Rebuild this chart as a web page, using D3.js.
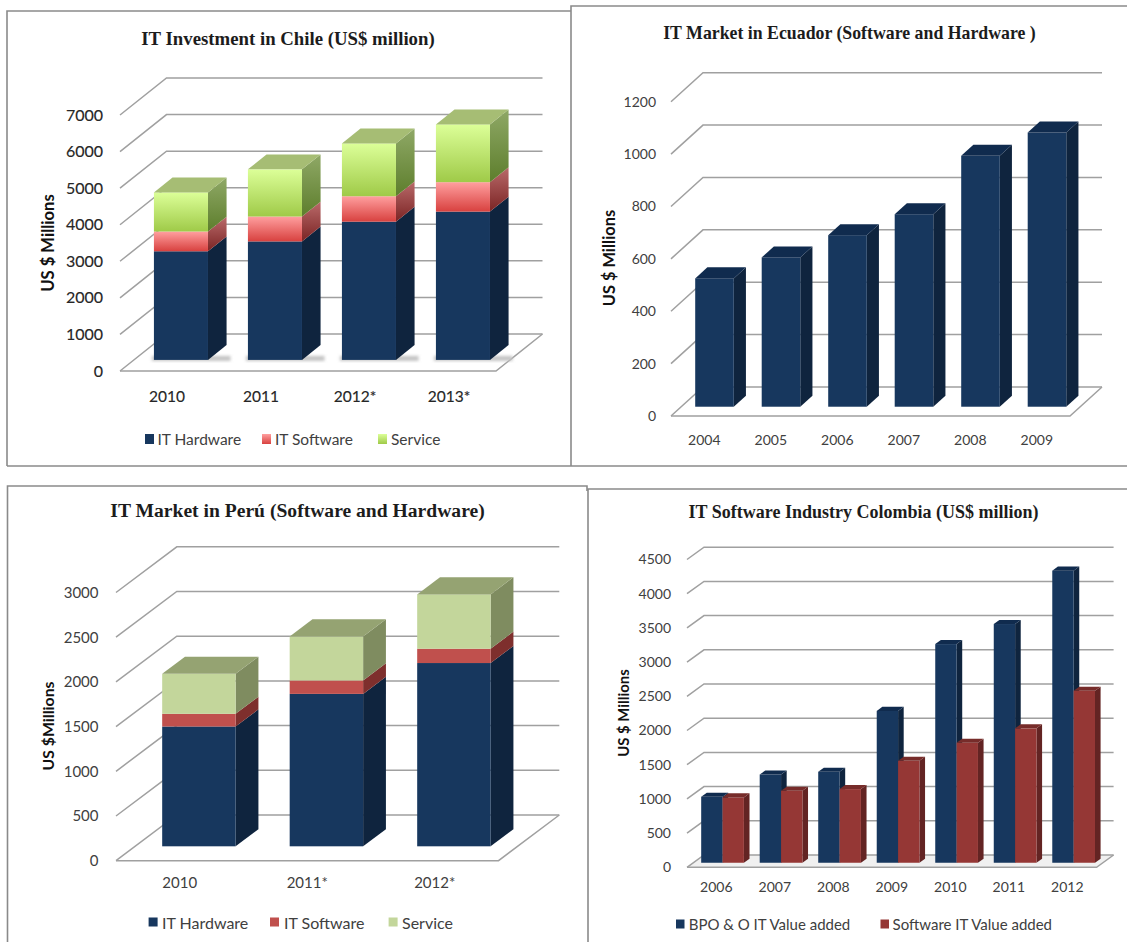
<!DOCTYPE html>
<html>
<head>
<meta charset="utf-8">
<title>IT markets in Latin America</title>
<script src="https://cdn.jsdelivr.net/npm/d3@7/dist/d3.min.js"></script>
<style>
  html, body { margin: 0; padding: 0; background: #fff; }
  svg { display: block; }
</style>
</head>
<body>
<svg id="board" width="1127" height="942"></svg>
<script>
// Chile, US$ million
const chileYears = ["2010", "2011", "2012*", "2013*"];
const chileHardware = [2970, 3240, 3780, 4055];
const chileSoftware = [540, 680, 695, 805];
const chileService = [1070, 1290, 1445, 1580];
const chileTicks = [0, 1000, 2000, 3000, 4000, 5000, 6000, 7000];

// Ecuador, US$ million
const ecuadorYears = ["2004", "2005", "2006", "2007", "2008", "2009"];
const ecuadorMarket = [490, 570, 655, 735, 958, 1047];
const ecuadorTicks = [0, 200, 400, 600, 800, 1000, 1200];

// Peru, US$ million
const peruYears = ["2010", "2011*", "2012*"];
const peruHardware = [1340, 1705, 2050];
const peruSoftware = [142, 150, 160];
const peruService = [447, 492, 608];
const peruTicks = [0, 500, 1000, 1500, 2000, 2500, 3000];

// Colombia, US$ million
const colombiaYears = ["2006", "2007", "2008", "2009", "2010", "2011", "2012"];
const colombiaBpo = [965, 1290, 1330, 2220, 3197, 3490, 4270];
const colombiaSoftware = [955, 1053, 1077, 1490, 1755, 1965, 2515];
const colombiaTicks = [0, 500, 1000, 1500, 2000, 2500, 3000, 3500, 4000, 4500];

const svg = d3.select("#board");
const defs = svg.append("defs");

function verticalGradient(id, top, bottom) {
  const g = defs.append("linearGradient").attr("id", id)
    .attr("x1", 0).attr("y1", 0).attr("x2", 0).attr("y2", 1);
  g.append("stop").attr("offset", "0%").attr("stop-color", top);
  g.append("stop").attr("offset", "100%").attr("stop-color", bottom);
}
verticalGradient("pinkFront", "#ff9f9f", "#d8413f");
verticalGradient("pinkSide", "#b96a6a", "#7b2424");
verticalGradient("limeFront", "#dcff98", "#9fca48");
verticalGradient("limeSide", "#8fa866", "#5d7e2c");
defs.append("filter").attr("id", "soft")
  .attr("x", "-20%").attr("y", "-40%").attr("width", "140%").attr("height", "180%")
  .append("feGaussianBlur").attr("stdDeviation", 1.5);

const navy = { front: "#17375e", side: "#0f243e", top: "#102b4e" };

// One entry per chart: its frame, its oblique box and its text placement.
const panels = [
  {
    title: "IT Investment in Chile (US$ million)", titleX: 288, titleY: 38, titleSize: 18.8,
    frame: [[7, 466], [7, 11], [571, 11]], frameBottom: [[7, 466], [571, 466]],
    yLabel: "US $ Millions", yLabelX: 48, yLabelY: 243, yLabelSize: 16.6,
    categories: chileYears, ticks: chileTicks,
    series: [
      { name: "IT Hardware", values: chileHardware, ...navy },
      { name: "IT Software", values: chileSoftware, front: "url(#pinkFront)", side: "url(#pinkSide)", top: "#c07070" },
      { name: "Service", values: chileService, front: "url(#limeFront)", side: "url(#limeSide)", top: "#a6bd74" }
    ],
    layout: "stacked",
    x0: 120, x1: 496, y0: 371, yTop: 115, dx: 46.5, dy: 37, near: 0.3, far: 0.7, padding: 0.425,
    tickPad: 17, catPad: 20, tickSize: 16, catSize: 15.5, tickInk: 0.15, ink: "#262626", floor: "#ffffff",
    legendY: 439, legendSize: 15.5, swatch: [9, 10], legend: [[145, 157.5], [262, 275], [378, 391]], shadow: "#c4c4c4"
  },
  {
    title: "IT Market in Ecuador (Software and Hardware )", titleX: 849.5, titleY: 33, titleSize: 17.8,
    frame: [[571, 466], [571, 6], [1127, 6]], frameBottom: [[571, 466], [1127, 466]],
    yLabel: "US $ Millions", yLabelX: 608, yLabelY: 258, yLabelSize: 16.4,
    categories: ecuadorYears, ticks: ecuadorTicks,
    series: [{ name: "IT Market", values: ecuadorMarket, ...navy }],
    layout: "stacked",
    x0: 671, x1: 1070, y0: 416, yTop: 101.7, dx: 32, dy: 29, near: 0.32, far: 0.7, padding: 0.42,
    tickPad: 15, catPad: 19, tickSize: 14, catSize: 14, tickInk: 0, ink: "#404040", floor: "#ffffff",
    legend: null, shadow: null
  },
  {
    title: "IT Market in Perú (Software and Hardware)", titleX: 297.5, titleY: 510, titleSize: 19.6,
    frame: [[7.5, 942], [7.5, 486], [587, 486], [587, 491]], frameBottom: null,
    yLabel: "US $Millions", yLabelX: 47, yLabelY: 726, yLabelSize: 15.8,
    categories: peruYears, ticks: peruTicks,
    series: [
      { name: "IT Hardware", values: peruHardware, ...navy },
      { name: "IT Software", values: peruSoftware, front: "#c0504d", side: "#7e2f2d", top: "#a04643" },
      { name: "Service", values: peruService, front: "#c3d69b", side: "#7f8c60", top: "#95a372" }
    ],
    layout: "stacked",
    x0: 116, x1: 498.5, y0: 860.7, yTop: 592.5, dx: 60.8, dy: 45.7, near: 0.315, far: 0.69, padding: 0.424,
    tickPad: 17.5, catPad: 17, tickSize: 15, catSize: 15, tickInk: 0, ink: "#404040", floor: "#ffffff",
    legendY: 922, legendSize: 16, swatch: [9, 9], legend: [[148.6, 162], [270, 284], [388.6, 402]], shadow: null
  },
  {
    title: "IT Software Industry Colombia (US$ million)", titleX: 863.5, titleY: 512, titleSize: 18,
    frame: [[588, 942], [588, 489], [1127, 489]], frameBottom: null,
    yLabel: "US $ Millions", yLabelX: 623, yLabelY: 713, yLabelSize: 14.9,
    categories: colombiaYears, ticks: colombiaTicks,
    series: [
      { name: "BPO & O IT Value added", values: colombiaBpo, ...navy },
      { name: "Software IT Value added", values: colombiaSoftware, front: "#953735", side: "#632423", top: "#772c2a" }
    ],
    layout: "clustered",
    x0: 687, x1: 1096.6, y0: 867.3, yTop: 559.5, dx: 17, dy: 12.3, near: 0.37, far: 0.7, padding: 0.27,
    tickPad: 16, catPad: 15, tickSize: 14, catSize: 14, tickInk: 0, ink: "#404040", floor: "#f0f0f0",
    legendY: 924, legendSize: 15, swatch: [8.5, 9], legend: [[676, 688.7], [880.5, 892.6]], shadow: null
  }
];

const line = d3.line();

panels.forEach(p => {
  const g = svg.append("g");
  const y = d3.scaleLinear()
    .domain([0, d3.max(p.ticks)])
    .range([p.y0, p.yTop]);
  const x = d3.scaleBand()
    .domain(p.categories)
    .range([p.x0, p.x1])
    .paddingInner(p.padding)
    .paddingOuter(p.padding / 2);

  // Oblique projection: depth 0 is the front of the box, depth 1 its back wall.
  const px = (xv, depth) => xv + depth * p.dx;
  const py = (yv, depth) => yv - depth * p.dy;

  // Panel frame
  g.append("path").attr("d", line(p.frame))
    .attr("fill", "none").attr("stroke", "#8a8a8a").attr("stroke-width", 1.6);
  if (p.frameBottom) {
    g.append("path").attr("d", line(p.frameBottom))
      .attr("fill", "none").attr("stroke", "#8a8a8a").attr("stroke-width", 1.6);
  }

  // Title
  g.append("text").attr("x", p.titleX).attr("y", p.titleY)
    .attr("text-anchor", "middle").attr("dominant-baseline", "central")
    .attr("font-family", "'Liberation Serif', serif").attr("font-weight", 700)
    .attr("font-size", p.titleSize).attr("fill", "#1c1c1c")
    .text(p.title);

  // Floor
  const backRight = p.x1 + p.dx;
  g.append("polygon")
    .attr("points", [
      [p.x0, p.y0], [p.x1, p.y0], [backRight, p.y0 - p.dy], [p.x0 + p.dx, p.y0 - p.dy]
    ].join(" "))
    .attr("fill", p.floor);

  // Gridlines wrap around the side wall, then run along the back wall
  g.append("g").selectAll("path").data(p.ticks).join("path")
    .attr("d", t => line([[p.x0, y(t)], [px(p.x0, 1), py(y(t), 1)], [backRight, py(y(t), 1)]]))
    .attr("fill", "none").attr("stroke", "#a0a0a0").attr("stroke-width", 1.5);

  // Front and right edges of the floor
  g.append("path")
    .attr("d", line([[p.x0, p.y0], [p.x1, p.y0], [backRight, p.y0 - p.dy]]))
    .attr("fill", "none").attr("stroke", "#a0a0a0").attr("stroke-width", 1.5);

  // Columns as front face, side face and lid
  function column(parent, left, width, yBase, yTopFace, s, lid) {
    const l = px(left, p.near), r = l + width;
    const shift = px(left, p.far) - l;
    const lift = py(0, p.near) - py(0, p.far);
    const yA = py(yBase, p.near), yB = py(yTopFace, p.near);
    parent.append("polygon")
      .attr("points", [[r, yA], [r + shift, yA - lift], [r + shift, yB - lift], [r, yB]].join(" "))
      .attr("fill", s.side);
    parent.append("rect")
      .attr("x", l).attr("y", yB).attr("width", width).attr("height", yA - yB)
      .attr("fill", s.front);
    if (lid) {
      parent.append("polygon")
        .attr("points", [[l, yB], [r, yB], [r + shift, yB - lift], [l + shift, yB - lift]].join(" "))
        .attr("fill", s.top);
    }
  }

  const marks = g.append("g");

  if (p.shadow) {
    marks.append("g").attr("filter", "url(#soft)").selectAll("rect").data(p.categories).join("rect")
      .attr("x", c => px(x(c), p.near) - 2)
      .attr("y", py(y(0), p.near) - 4)
      .attr("width", x.bandwidth() + (p.far - p.near) * p.dx + 6)
      .attr("height", 5)
      .attr("fill", p.shadow);
  }

  if (p.layout === "stacked") {
    const keys = p.series.map(s => s.name);
    const rows = p.categories.map((c, i) => {
      const row = { category: c };
      p.series.forEach(s => { row[s.name] = s.values[i]; });
      return row;
    });
    const layers = d3.stack().keys(keys)(rows);
    p.categories.forEach((c, i) => {
      const slot = marks.append("g");
      layers.forEach((layer, li) => {
        const [lo, hi] = layer[i];
        column(slot, x(c), x.bandwidth(), y(lo), y(hi), p.series[li], li === layers.length - 1);
      });
    });
  } else {
    const inner = d3.scaleBand()
      .domain(p.series.map(s => s.name))
      .range([0, x.bandwidth()]);
    p.categories.forEach((c, i) => {
      const slot = marks.append("g");
      p.series.forEach(s => {
        column(slot, x(c) + inner(s.name), inner.bandwidth(), y(0), y(s.values[i]), s, true);
      });
    });
  }

  // Value axis
  const yAxis = g.append("g")
    .attr("transform", `translate(${p.x0},0)`)
    .call(d3.axisLeft(y).tickValues(p.ticks).tickFormat(d3.format("d")).tickSize(0).tickPadding(p.tickPad));
  yAxis.select(".domain").remove();
  yAxis.selectAll("text")
    .attr("font-family", "Lato, sans-serif").attr("font-size", p.tickSize)
    .attr("fill", p.ink).attr("stroke", p.ink).attr("stroke-width", p.tickInk);

  // Category axis
  const xAxis = g.append("g")
    .attr("transform", `translate(0,${p.y0})`)
    .call(d3.axisBottom(x).tickSize(0).tickPadding(p.catPad));
  xAxis.select(".domain").remove();
  xAxis.selectAll("text")
    .attr("font-family", "Lato, sans-serif").attr("font-size", p.catSize)
    .attr("fill", p.ink).attr("stroke", p.ink).attr("stroke-width", p.tickInk);

  // Rotated axis title
  g.append("text")
    .attr("transform", `translate(${p.yLabelX},${p.yLabelY}) rotate(-90)`)
    .attr("text-anchor", "middle").attr("dominant-baseline", "central")
    .attr("font-family", "Lato, sans-serif").attr("font-weight", 700)
    .attr("font-size", p.yLabelSize).attr("fill", "#111")
    .text(p.yLabel);

  // Legend
  if (p.legend) {
    const items = g.append("g").selectAll("g").data(p.series).join("g");
    items.append("rect")
      .attr("x", (s, i) => p.legend[i][0])
      .attr("y", p.legendY - p.swatch[1] / 2)
      .attr("width", p.swatch[0]).attr("height", p.swatch[1])
      .attr("fill", s => s.front);
    items.append("text")
      .attr("x", (s, i) => p.legend[i][1])
      .attr("y", p.legendY)
      .attr("dominant-baseline", "central")
      .attr("font-family", "Lato, sans-serif").attr("font-size", p.legendSize)
      .attr("fill", "#404040")
      .text(s => s.name);
  }
});
</script>
</body>
</html>
